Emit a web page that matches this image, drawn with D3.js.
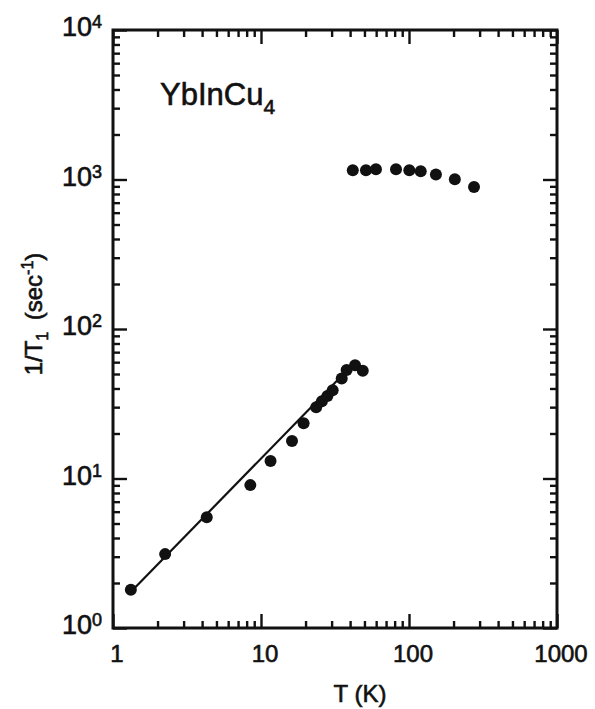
<!DOCTYPE html>
<html>
<head>
<meta charset="utf-8">
<script src="https://cdn.jsdelivr.net/npm/d3@7"></script>
<style>
  html, body { margin: 0; padding: 0; background: #fff; }
  svg { display: block; }
  text { font-family: "Liberation Sans", Arial, Helvetica, sans-serif; fill: #111; stroke: #111; stroke-width: 0.6px; }
</style>
</head>
<body>
<svg id="chart" width="595" height="709"></svg>
<script>
// ---- data ----
const lowT   = [1.32, 2.25, 4.30, 8.47, 11.6, 16.2, 19.4, 23.6, 25.8, 28.1, 30.5, 35.1, 37.9, 43.2, 48.7];
const lowR   = [1.80, 3.12, 5.50, 9.03, 13.1, 17.8, 23.4, 30.0, 32.9, 35.6, 39.0, 46.7, 53.1, 57.3, 52.5];
const highT  = [41.7, 51.2, 59.8, 81.7, 100.5, 120, 152, 204, 275];
const highR  = [1152, 1152, 1170, 1170, 1152, 1134, 1079, 1003, 891];
const fitT   = [1.4, 40];
const fitR   = [1.85, 55.5];
const xTickValues = [1, 10, 100, 1000];
const xTickLabels = ["1", "10", "100", "1000"];
const yTickValues = [1, 10, 100, 1000, 10000];
const yTickExp    = ["0", "1", "2", "3", "4"];
const compound = { base: "YbInCu", sub: "4" };

// ---- layout ----
const W = 595, H = 709;
const L = 113, R = 557, T = 30, B = 628;
const svg = d3.select("#chart");

const x = d3.scaleLog().domain([1, 1000]).range([L, R]);
const y = d3.scaleLog().domain([1, 10000]).range([B, T]);

function minors(lo, hi) {
  const out = [];
  for (let d = lo; d < hi; d *= 10)
    for (let k = 2; k <= 9; k++) out.push(d * k);
  return out;
}
const xMinor = minors(1, 1000);
const yMinor = minors(1, 10000);

const MAJ = 14, MIN = 7;
function styleAxis(g) {
  g.select(".domain").remove();
  g.selectAll(".tick line").attr("stroke", "#111").attr("stroke-width", 2.4);
  g.selectAll(".tick text").remove();
}
// bottom
svg.append("g").attr("transform", `translate(0,${B})`)
  .call(d3.axisBottom(x).tickValues(xTickValues).tickSize(-MAJ)).call(styleAxis);
svg.append("g").attr("transform", `translate(0,${B})`)
  .call(d3.axisBottom(x).tickValues(xMinor).tickSize(-MIN)).call(styleAxis);
// top
svg.append("g").attr("transform", `translate(0,${T})`)
  .call(d3.axisTop(x).tickValues(xTickValues).tickSize(-MAJ)).call(styleAxis);
svg.append("g").attr("transform", `translate(0,${T})`)
  .call(d3.axisTop(x).tickValues(xMinor).tickSize(-MIN)).call(styleAxis);
// left
svg.append("g").attr("transform", `translate(${L},0)`)
  .call(d3.axisLeft(y).tickValues(yTickValues).tickSize(-MAJ)).call(styleAxis);
svg.append("g").attr("transform", `translate(${L},0)`)
  .call(d3.axisLeft(y).tickValues(yMinor).tickSize(-MIN)).call(styleAxis);
// right
svg.append("g").attr("transform", `translate(${R},0)`)
  .call(d3.axisRight(y).tickValues(yTickValues).tickSize(-MAJ)).call(styleAxis);
svg.append("g").attr("transform", `translate(${R},0)`)
  .call(d3.axisRight(y).tickValues(yMinor).tickSize(-MIN)).call(styleAxis);

// frame
svg.append("rect").attr("x", L).attr("y", T).attr("width", R - L).attr("height", B - T)
  .attr("fill", "none").attr("stroke", "#111").attr("stroke-width", 3);

// x tick labels
svg.append("g").selectAll("text").data(xTickValues).join("text")
  .attr("x", d => x(d) + 4).attr("y", B + 34)
  .attr("text-anchor", "middle").attr("font-size", 24)
  .text((d, i) => xTickLabels[i]);

// y tick labels
const yl = svg.append("g").selectAll("text").data(yTickValues).join("text")
  .attr("x", 102).attr("y", d => y(d) + 6)
  .attr("text-anchor", "end").attr("font-size", 27);
yl.append("tspan").text("10");
yl.append("tspan").attr("font-size", 18).attr("dy", -8).text((d, i) => yTickExp[i]);

// axis titles
svg.append("text").attr("x", 360).attr("y", 702).attr("text-anchor", "middle")
  .attr("font-size", 24).text("T (K)");

const yt = svg.append("text").attr("transform", "translate(42,314) rotate(-90)")
  .attr("text-anchor", "middle").attr("font-size", 24);
yt.append("tspan").text("1/T");
yt.append("tspan").attr("font-size", 16).attr("dy", 6).text("1");
yt.append("tspan").attr("dy", -6).text("\u2009 (sec");
yt.append("tspan").attr("font-size", 16).attr("dy", -9).text("-1");
yt.append("tspan").attr("dy", 9).text(")");

// compound label
const cl = svg.append("text").attr("x", 160).attr("y", 105).attr("font-size", 31);
cl.append("tspan").text(compound.base);
cl.append("tspan").attr("font-size", 21).attr("dy", 9).text(compound.sub);

// fit line
svg.append("path")
  .datum(fitT.map((t, i) => [t, fitR[i]]))
  .attr("d", d3.line().x(d => x(d[0])).y(d => y(d[1])))
  .attr("stroke", "#111").attr("stroke-width", 2.2).attr("fill", "none");

// points
svg.append("g").selectAll("circle").data(lowT.map((t, i) => [t, lowR[i]])).join("circle")
  .attr("cx", d => x(d[0])).attr("cy", d => y(d[1])).attr("r", 6).attr("fill", "#111");
svg.append("g").selectAll("circle").data(highT.map((t, i) => [t, highR[i]])).join("circle")
  .attr("cx", d => x(d[0])).attr("cy", d => y(d[1])).attr("r", 6).attr("fill", "#111");
</script>
</body>
</html>
